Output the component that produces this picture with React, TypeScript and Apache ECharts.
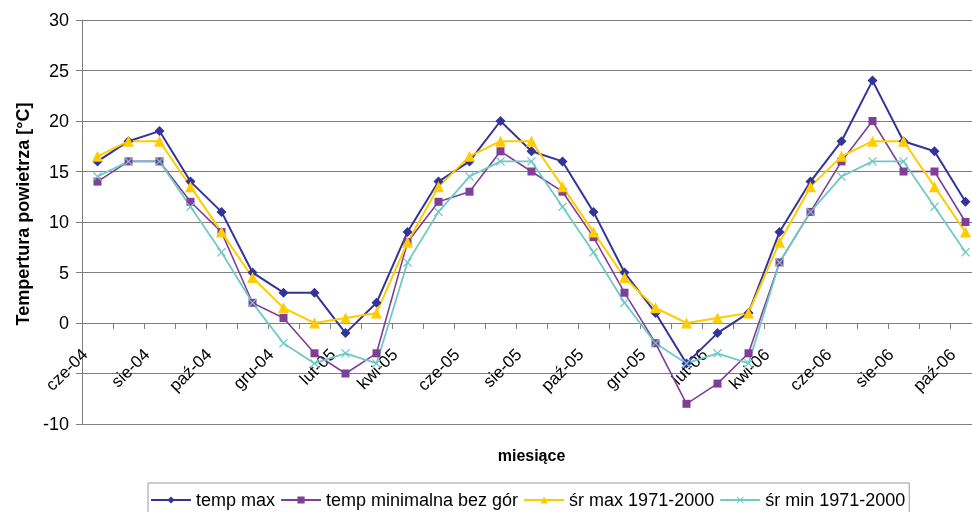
import React, { useEffect, useRef } from "react";
import * as echarts from "echarts";

const categories = [
  "cze-04", "lip-04", "sie-04", "wrz-04", "paź-04", "lis-04", "gru-04", "sty-05",
  "lut-05", "mar-05", "kwi-05", "maj-05", "cze-05", "lip-05", "sie-05", "wrz-05",
  "paź-05", "lis-05", "gru-05", "sty-06", "lut-06", "mar-06", "kwi-06", "maj-06",
  "cze-06", "lip-06", "sie-06", "wrz-06", "paź-06",
];

const tempMax = [16, 18, 19, 14, 11, 5, 3, 3, -1, 2, 9, 14, 16, 20, 17, 16, 11, 5, 1, -4, -1, 1, 9, 14, 18, 24, 18, 17, 12];
const tempMinBezGor = [14, 16, 16, 12, 9, 2, 0.5, -3, -5, -3, 8, 12, 13, 17, 15, 13, 8.5, 3, -2, -8, -6, -3, 6, 11, 16, 20, 15, 15, 10];
const srMax = [16.5, 18, 18, 13.5, 9, 4.5, 1.5, 0, 0.5, 1, 8, 13.5, 16.5, 18, 18, 13.5, 9, 4.5, 1.5, 0, 0.5, 1, 8, 13.5, 16.5, 18, 18, 13.5, 9];
const srMin = [14.5, 16, 16, 11.5, 7, 2, -2, -4, -3, -4, 6, 11, 14.5, 16, 16, 11.5, 7, 2, -2, -4, -3, -4, 6, 11, 14.5, 16, 16, 11.5, 7];

// y tick labels shown in the reference (-5 is hidden behind the category labels there)
const hiddenYTicks = [-5];

const seriesNames = ["temp max", "temp minimalna bez gór", "śr max 1971-2000", "śr min 1971-2000"];
const colors = ["#333399", "#7F3F98", "#FFCC00", "#70C8C8"];

const X_SYMBOL = "path://M0,1 L1,0 L5,4 L9,0 L10,1 L6,5 L10,9 L9,10 L5,6 L1,10 L0,9 L4,5 Z";

const FONT = "'Liberation Sans', Arial, Helvetica, sans-serif";

export default function App() {
  const ref = useRef<HTMLDivElement>(null);

  useEffect(() => {
    if (!ref.current) return;
    const chart = echarts.init(ref.current, null, { renderer: "svg" });
    const mk = (name: string, data: number[], color: string, symbol: string, size: number, width: number) => ({
      name,
      type: "line",
      data,
      symbol,
      symbolSize: size,
      showAllSymbol: true,
      lineStyle: { color, width },
      itemStyle: { color },
      z: 3,
    });
    chart.setOption({
      animation: false,
      textStyle: { fontFamily: FONT },
      grid: { left: 82, top: 20, width: 899, height: 404, containLabel: false, outerBoundsMode: "none" },
      legend: {
        left: 148,
        top: 483,
        padding: [8, 4, 10, 2],
        borderColor: "#999999",
        borderWidth: 1,
        itemWidth: 40,
        itemHeight: 9,
        itemGap: 5,
        textStyle: { fontSize: 18, color: "#000", fontFamily: FONT },
        data: seriesNames,
      },
      xAxis: {
        type: "category",
        data: categories,
        boundaryGap: true,
        offset: -101,
        name: "miesiące",
        nameLocation: "middle",
        nameGap: 124,
        nameTextStyle: { fontSize: 16, fontWeight: "bold", color: "#000", fontFamily: FONT },
        axisLine: { onZero: false, lineStyle: { color: "#808080", width: 1 } },
        axisTick: { show: true, interval: 0, length: 6, lineStyle: { color: "#808080" } },
        axisLabel: { interval: 1, rotate: 45, fontSize: 17, color: "#000", margin: 16, padding: [0, 18, 0, 0], fontFamily: FONT },
        splitLine: { show: false },
      },
      yAxis: {
        type: "value",
        min: -10,
        max: 30,
        interval: 5,
        name: "Tempertura powietrza [°C]",
        nameLocation: "middle",
        nameGap: 50,
        nameTextStyle: { fontSize: 18, fontWeight: "bold", color: "#000", padding: [0, 0, 0, 16], fontFamily: FONT },
        axisLine: { show: true, lineStyle: { color: "#808080", width: 1 } },
        axisTick: { show: true, length: 6, lineStyle: { color: "#808080" } },
        axisLabel: {
          fontSize: 18,
          color: "#000",
          margin: 13,
          fontFamily: FONT,
          formatter: (v: number) => (hiddenYTicks.includes(v) ? "" : String(v)),
        },
        splitLine: { show: true, lineStyle: { color: "#808080", width: 1 } },
      },
      series: [
        mk(seriesNames[0], tempMax, colors[0], "diamond", 10, 2),
        mk(seriesNames[1], tempMinBezGor, colors[1], "rect", 8, 1.6),
        mk(seriesNames[2], srMax, colors[2], "triangle", 11, 2),
        mk(seriesNames[3], srMin, colors[3], X_SYMBOL, 9, 1.8),
      ],
    });
    return () => chart.dispose();
  }, []);

  return <div ref={ref} style={{ position: "fixed", left: 0, top: 0, width: 972, height: 512 }} />;
}
